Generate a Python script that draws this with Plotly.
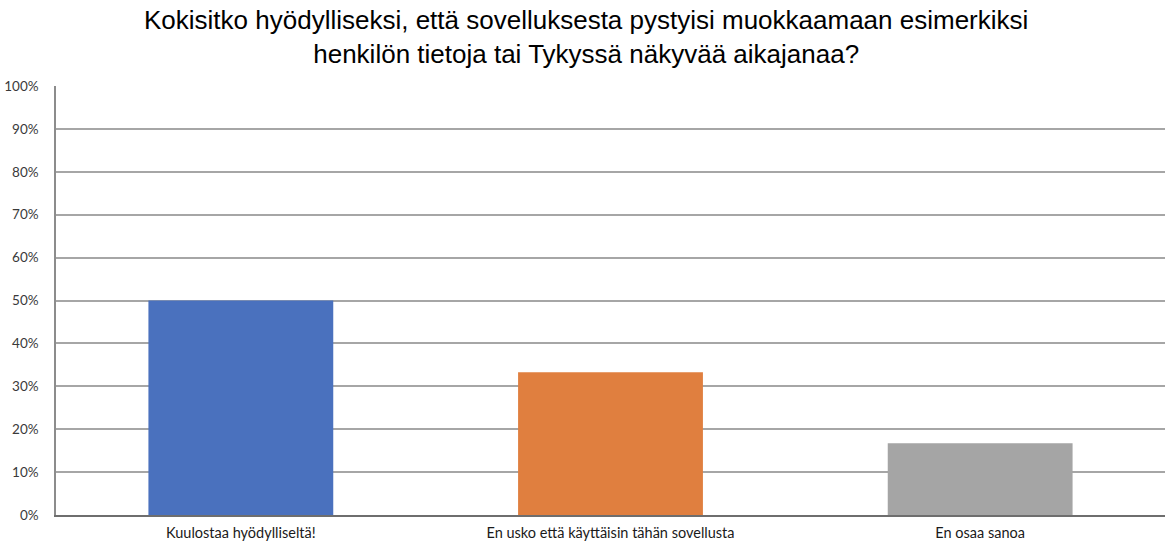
import plotly.graph_objects as go

# Survey answers and their shares (%)
categories = [
    "Kuulostaa hyödylliseltä!",
    "En usko että käyttäisin tähän sovellusta",
    "En osaa sanoa",
]
shares = [50.0, 33.3, 16.7]
bar_colors = ["#4A71BE", "#E07F3F", "#A5A5A5"]
y_ticks = list(range(0, 101, 10))
y_tick_labels = [f"{v}%" for v in y_ticks]

title_text = (
    "Kokisitko hyödylliseksi, että sovelluksesta pystyisi muokkaamaan esimerkiksi"
    "<br>henkilön tietoja tai Tykyssä näkyvää aikajanaa?"
)

fig = go.Figure(
    go.Bar(
        x=categories,
        y=shares,
        marker=dict(color=bar_colors, line=dict(width=0)),
        hoverinfo="skip",
    )
)

# Two-line heading placed as an annotation above the plot area
fig.add_annotation(
    text=title_text,
    xref="paper",
    yref="paper",
    x=0.4775,
    y=1,
    xanchor="center",
    yanchor="bottom",
    yshift=15,
    showarrow=False,
    align="center",
    font=dict(family="Liberation Sans, Arial, sans-serif", size=26, color="#000000"),
)

fig.update_layout(
    width=1171,
    height=543,
    margin=dict(l=56, r=6, t=86, b=28),
    paper_bgcolor="white",
    plot_bgcolor="white",
    bargap=0.5,
    showlegend=False,
    xaxis=dict(
        automargin=False,
        showgrid=False,
        showline=True,
        linecolor="#6E6E6E",
        linewidth=1.5,
        ticks="",
        tickfont=dict(family="Lato, sans-serif", size=14.5, color="#1A1A1A"),
        ticklabelstandoff=4,
    ),
    yaxis=dict(
        automargin=False,
        range=[0, 100],
        tickvals=y_ticks,
        ticktext=y_tick_labels,
        showgrid=True,
        gridcolor="#A6A6A6",
        gridwidth=1.5,
        showline=True,
        linecolor="#8C8C8C",
        linewidth=1.5,
        zeroline=False,
        ticks="",
        ticklabelstandoff=13,
        tickfont=dict(family="Lato, sans-serif", size=13.5, color="#3A3A3A"),
    ),
)

fig.write_html("out.html")
